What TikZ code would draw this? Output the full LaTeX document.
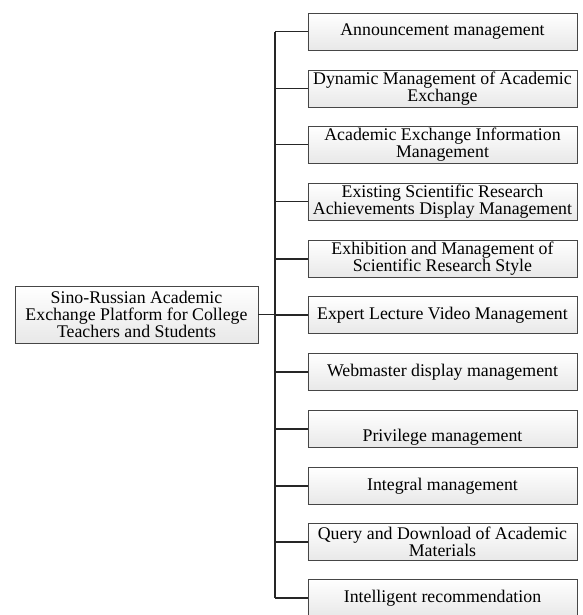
\documentclass[tikz,border=0pt]{standalone}
\usepackage{fontspec}
\setmainfont{Liberation Serif}
\usetikzlibrary{shadows}
\tikzset{
  itembox/.style={draw=gray!55!black, line width=0.6pt, top color=white, bottom color=gray!18,
    drop shadow={shadow xshift=0.8pt, shadow yshift=-0.8pt, opacity=0.25},
    minimum width=8.07cm, minimum height=1.11cm, inner sep=1pt, align=center,
    font=\fontsize{15.2}{14.5}\selectfont},
  rootbox/.style={itembox, minimum width=7.29cm, minimum height=1.71cm},
  link/.style={draw=black!85, line width=0.9pt}
}
\begin{document}
\begin{tikzpicture}[x=0.03cm, y=-0.03cm]
    \useasboundingbox (0,0) rectangle (582,615);

    % platform
    \node[rootbox] (root) at (136.5,314.5) {Sino-Russian Academic\\Exchange Platform for College\\Teachers and Students};

    % modules
    \node[itembox] (m1)  at (442.5,31.5)  {Announcement management};
    \node[itembox] (m2)  at (442.5,88.5)  {Dynamic Management of Academic\\Exchange};
    \node[itembox] (m3)  at (442.5,144.5) {Academic Exchange Information\\Management};
    \node[itembox] (m4)  at (442.5,201.5) {Existing Scientific Research\\Achievements Display Management};
    \node[itembox] (m5)  at (442.5,259)   {Exhibition and Management of\\Scientific Research Style};
    \node[itembox] (m6)  at (442.5,315)   {Expert Lecture Video Management};
    \node[itembox] (m7)  at (442.5,372)   {Webmaster display management};
    \node[itembox] (m8)  at (442.5,429)   {\raisebox{-7pt}[\height][\depth]{Privilege management}};
    \node[itembox] (m9)  at (442.5,486)   {Integral management};
    \node[itembox] (m10) at (442.5,542)   {Query and Download of Academic\\Materials};
    \node[itembox] (m11) at (442.5,598)   {Intelligent recommendation};

    % bus
    \coordinate (bus) at (275,0);
    \draw[link] (bus |- m1.west) -- (bus |- m11.west);
    \draw[link] (root.east) -- (root.east -| bus);
    \foreach \m in {m1,m2,m3,m4,m5,m6,m7,m8,m9,m10,m11}
        \draw[link] (bus |- \m.west) -- (\m.west);

\end{tikzpicture}
\end{document}
